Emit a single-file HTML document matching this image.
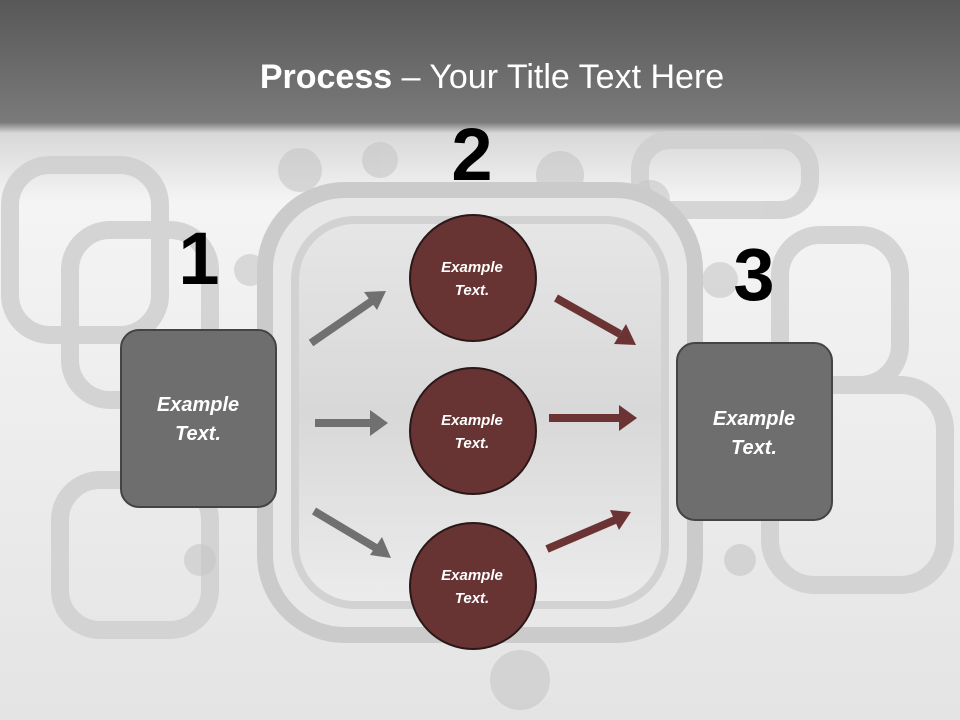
<!DOCTYPE html>
<html><head><meta charset="utf-8"><style>
html,body{margin:0;padding:0;width:960px;height:720px;overflow:hidden}
svg{display:block}
</style></head><body>
<svg width="960" height="720" viewBox="0 0 960 720" xmlns="http://www.w3.org/2000/svg" font-family="'Liberation Sans', sans-serif">
<defs>
<linearGradient id="bg" x1="0" y1="0" x2="0" y2="1">
<stop offset="0" stop-color="#585858"/>
<stop offset="0.17" stop-color="#7a7a7a"/>
<stop offset="0.185" stop-color="#d8d8d8"/>
<stop offset="0.28" stop-color="#f4f4f4"/>
<stop offset="1" stop-color="#e4e4e4"/>
</linearGradient>
<linearGradient id="inner" x1="0" y1="0" x2="0" y2="1">
<stop offset="0" stop-color="#e6e6e6"/>
<stop offset="0.5" stop-color="#d8d8d8"/>
<stop offset="1" stop-color="#ececec"/>
</linearGradient>
</defs>
<rect width="960" height="720" fill="url(#bg)"/>
<g fill="none" stroke="#cfcfcf" stroke-width="18" opacity="0.85">
<rect x="10" y="165" width="150" height="170" rx="40"/>
<rect x="70" y="230" width="140" height="170" rx="40"/>
<rect x="60" y="480" width="150" height="150" rx="40"/>
<rect x="780" y="235" width="120" height="150" rx="40"/>
<rect x="770" y="385" width="175" height="200" rx="45"/>
<rect x="640" y="140" width="170" height="70" rx="30"/>
</g>
<g fill="#c6c6c6" opacity="0.6">
<circle cx="300" cy="170" r="22"/><circle cx="380" cy="160" r="18"/><circle cx="560" cy="175" r="24"/>
<circle cx="650" cy="200" r="20"/><circle cx="250" cy="270" r="16"/><circle cx="720" cy="280" r="18"/>
<circle cx="320" cy="600" r="22"/><circle cx="650" cy="600" r="20"/><circle cx="200" cy="560" r="16"/>
<circle cx="740" cy="560" r="16"/><circle cx="520" cy="680" r="30"/>
</g>
<rect x="265" y="190" width="430" height="445" rx="80" fill="#e8e8e8" stroke="#cbcbcb" stroke-width="16"/>
<rect x="295" y="220" width="370" height="385" rx="60" fill="url(#inner)" stroke="#d2d2d2" stroke-width="8"/>
<text x="492" y="88" text-anchor="middle" fill="#fff" font-size="34"><tspan font-weight="bold">Process</tspan> – Your Title Text Here</text>
<g font-weight="bold" font-size="74" fill="#000" text-anchor="middle">
<text x="199" y="284">1</text>
<text x="472" y="180">2</text>
<text x="754" y="300">3</text>
</g>
<rect x="121" y="330" width="155" height="177" rx="18" fill="#6e6e6e" stroke="#444" stroke-width="2"/>
<rect x="677" y="343" width="155" height="177" rx="18" fill="#6e6e6e" stroke="#444" stroke-width="2"/>
<g fill="#fff" font-weight="bold" font-style="italic" font-size="20" text-anchor="middle">
<text x="198" y="411">Example</text><text x="198" y="440">Text.</text>
<text x="754" y="425">Example</text><text x="754" y="454">Text.</text>
</g>
<g stroke-width="8" fill="none">
<line x1="311" y1="343" x2="372" y2="301" stroke="#707070"/>
<line x1="315" y1="423" x2="372" y2="423" stroke="#707070"/>
<line x1="314" y1="511" x2="376" y2="548" stroke="#707070"/>
<line x1="556" y1="298" x2="620" y2="334" stroke="#6b3333"/>
<line x1="549" y1="418" x2="620" y2="418" stroke="#6b3333"/>
<line x1="547" y1="549" x2="615" y2="520" stroke="#6b3333"/>
</g>
<g>
<polygon points="386,291 364,292 377,310" fill="#707070"/>
<polygon points="388,423 370,410 370,436" fill="#707070"/>
<polygon points="391,558 382,537 370,555" fill="#707070"/>
<polygon points="636,345 614,344 626,324" fill="#6b3333"/>
<polygon points="637,418 619,405 619,431" fill="#6b3333"/>
<polygon points="631,512 610,510 619,530" fill="#6b3333"/>
</g>
<g fill="#683333" stroke="#2a1818" stroke-width="2">
<circle cx="473" cy="278" r="63"/>
<circle cx="473" cy="431" r="63"/>
<circle cx="473" cy="586" r="63"/>
</g>
<g fill="#fff" font-weight="bold" font-style="italic" font-size="15" text-anchor="middle">
<text x="472" y="272">Example</text><text x="472" y="295">Text.</text>
<text x="472" y="425">Example</text><text x="472" y="448">Text.</text>
<text x="472" y="580">Example</text><text x="472" y="603">Text.</text>
</g>
</svg>
</body></html>
